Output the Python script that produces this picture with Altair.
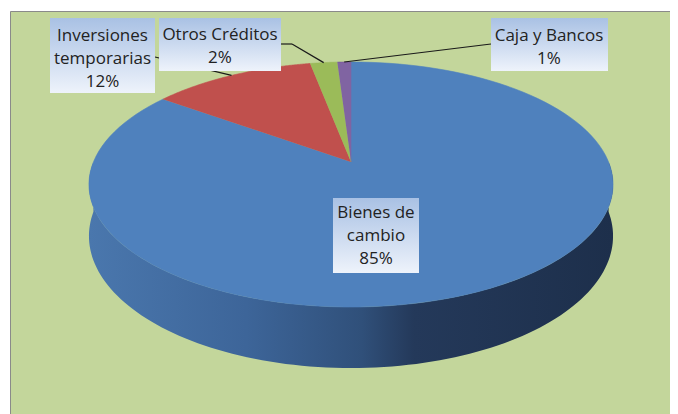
import altair as alt
import pandas as pd

# ---- data ----
categories = ["Bienes de cambio", "Inversiones temporarias", "Otros Créditos", "Caja y Bancos"]
values = [85, 12, 2, 1]
label_lines = ["Bienes de\ncambio", "Inversiones\ntemporarias", "Otros Créditos", "Caja y Bancos"]
colors = ["#4F81BD", "#C0504D", "#9BBB59", "#8064A2"]

# ---- layout (chart units: x = pie radius, y = projected depth radius) ----
box_x1 = [-0.0699, -1.1685, -0.7453, 0.5435]
box_x2 = [0.2640, -0.7609, -0.2717, 0.9977]
box_y1 = [-0.3041, 1.2162, 1.2162, 1.2162]
box_y2 = [-0.9375, 0.5828, 0.7686, 0.7686]
text_x = [0.0970, -0.9647, -0.5085, 0.7686]
text_y = [-0.4307, 1.0642, 1.0726, 1.0642]
has_leader = [0, 1, 1, 1]
anchor_x = [0, -0.7609, -0.2717, 0.5435]
anchor_y = [0, 0.8868, 0.9966, 0.9966]
elbow_x = [0, -0.7609, -0.2290, 0.5435]
elbow_y = [0, 0.8868, 0.9966, 0.9966]

K = 0.1837     # perspective factor
D = 0.4206     # pie thickness
N = 120        # arc resolution
M = 120

df = pd.DataFrame({
    "category": categories, "value": values, "wrapped": label_lines,
    "idx": list(range(len(categories))),
    "box_x1": box_x1, "box_x2": box_x2, "box_y1": box_y1, "box_y2": box_y2,
    "text_x": text_x, "text_y": text_y, "leader": has_leader,
    "anchor_x": anchor_x, "anchor_y": anchor_y, "elbow_x": elbow_x, "elbow_y": elbow_y,
})

xscale = alt.Scale(domain=[-1.3238, 1.2384], nice=False, zero=False)
yscale = alt.Scale(domain=[-2.1284, 1.2753], nice=False, zero=False)
cscale = alt.Scale(domain=categories, range=colors)


def with_angles(ch):
    return ch.transform_joinaggregate(total="sum(value)").transform_window(
        cum="sum(value)", sort=[alt.SortField("idx")], frame=[None, 0]
    ).transform_calculate(
        start="(datum.cum - datum.value) / datum.total"
    ).transform_calculate(
        end="datum.cum / datum.total"
    )


base = alt.Chart(df)

# side wall of the pie
wall = with_angles(base).transform_calculate(
    w0="max(datum.start, 0.25)"
).transform_calculate(
    w1="min(datum.end, 0.75)"
).transform_filter("datum.w1 > datum.w0").transform_calculate(
    step=f"sequence(0, {2 * M + 2})"
).transform_flatten(["step"]).transform_calculate(
    t=f"datum.step <= {M} ? datum.step / {M} : ({2 * M + 1} - datum.step) / {M}"
).transform_calculate(
    bottom=f"datum.step > {M} ? 1 : 0"
).transform_calculate(
    ang="2 * PI * (datum.w0 + (datum.w1 - datum.w0) * datum.t)"
).transform_calculate(
    s=f"1 / (1 + {K} * cos(datum.ang))"
).transform_calculate(
    px="sin(datum.ang) * datum.s"
).transform_calculate(
    py=f"(cos(datum.ang) - datum.bottom * {D}) * datum.s"
).mark_line(
    fill=alt.LinearGradient(
        gradient="linear",
        stops=[
            alt.GradientStop(offset=0, color="#4a77ad"),
            alt.GradientStop(offset=0.3, color="#3d6599"),
            alt.GradientStop(offset=0.52, color="#30507a"),
            alt.GradientStop(offset=0.62, color="#24395a"),
            alt.GradientStop(offset=1, color="#1d2f4b"),
        ],
        x1=0, x2=1, y1=0, y2=0,
    ),
    strokeWidth=0,
).encode(
    x=alt.X("px:Q", scale=xscale, axis=None),
    y=alt.Y("py:Q", scale=yscale, axis=None),
    order=alt.Order("step:Q"),
    detail="category:N",
)

# top face slices
slices = with_angles(base).transform_calculate(
    step=f"sequence(0, {N + 2})"
).transform_flatten(["step"]).transform_calculate(
    ang=f"2 * PI * (datum.start + (datum.end - datum.start) * min(datum.step, {N}) / {N})"
).transform_calculate(
    s=f"1 / (1 + {K} * cos(datum.ang))"
).transform_calculate(
    px=f"datum.step > {N} ? 0 : sin(datum.ang) * datum.s"
).transform_calculate(
    py=f"datum.step > {N} ? 0 : cos(datum.ang) * datum.s"
).mark_line(strokeWidth=0.6).encode(
    x=alt.X("px:Q", scale=xscale, axis=None),
    y=alt.Y("py:Q", scale=yscale, axis=None),
    order=alt.Order("step:Q"),
    detail="category:N",
    fill=alt.Fill("category:N", scale=cscale, legend=None),
    stroke=alt.Stroke("category:N", scale=cscale, legend=None),
)

# leader lines
rim = with_angles(base).transform_filter("datum.leader == 1").transform_calculate(
    ang="PI * (datum.start + datum.end)"
).transform_calculate(
    s=f"1 / (1 + {K} * cos(datum.ang))"
).transform_calculate(
    rx="sin(datum.ang) * datum.s"
).transform_calculate(
    ry="cos(datum.ang) * datum.s"
)
leader1 = rim.mark_rule(color="#1a1a1a", strokeWidth=1.2).encode(
    x=alt.X("elbow_x:Q", scale=xscale, axis=None),
    y=alt.Y("elbow_y:Q", scale=yscale, axis=None),
    x2="rx:Q", y2="ry:Q",
)
leader2 = rim.mark_rule(color="#1a1a1a", strokeWidth=1.2).encode(
    x=alt.X("anchor_x:Q", scale=xscale, axis=None),
    y=alt.Y("anchor_y:Q", scale=yscale, axis=None),
    x2="elbow_x:Q", y2="elbow_y:Q",
)

# label boxes
boxes = base.mark_rect(
    fill=alt.LinearGradient(
        gradient="linear",
        stops=[alt.GradientStop(offset=0, color="#a9c1e4"),
               alt.GradientStop(offset=1, color="#eef3fb")],
        x1=0, x2=0, y1=0, y2=1,
    )
).encode(
    x=alt.X("box_x1:Q", scale=xscale, axis=None),
    x2="box_x2:Q",
    y=alt.Y("box_y1:Q", scale=yscale, axis=None),
    y2="box_y2:Q",
)

texts = base.transform_joinaggregate(total="sum(value)").transform_calculate(
    label="datum.wrapped + '\\n' + round(100 * datum.value / datum.total) + '%'"
).mark_text(
    font="Open Sans", fontSize=17, color="#222222", lineBreak="\n",
    lineHeight=23, align="center", baseline="middle",
).encode(
    x=alt.X("text_x:Q", scale=xscale, axis=None),
    y=alt.Y("text_y:Q", scale=yscale, axis=None),
    text="label:N",
)

chart = alt.layer(wall, slices, leader1, leader2, boxes, texts).properties(
    width=662, height=406,
    autosize=alt.AutoSizeParams(type="fit", contains="padding"),
    padding={"left": 2, "top": 3, "right": 0, "bottom": 0},
    background="white",
).configure_view(
    fill="#c3d69b", stroke="#8a8a8a", strokeWidth=1
)

chart.save("out.html", embed_options={"renderer": "svg", "actions": False})
